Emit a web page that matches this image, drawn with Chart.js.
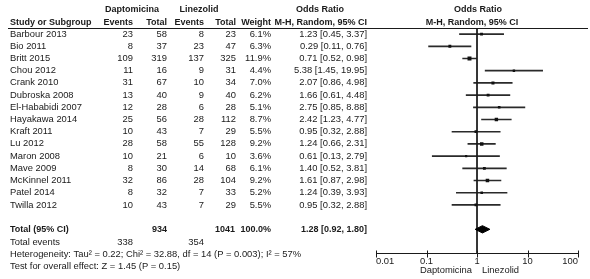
<!DOCTYPE html>
<html>
<head>
<meta charset="utf-8">
<script src="https://cdn.jsdelivr.net/npm/chart.js@4/dist/chart.umd.min.js"></script>
<style>
    html, body { margin: 0; padding: 0; background: #fff; }
    #wrap { width: 590px; height: 279px; }
</style>
</head>
<body>
<div id="wrap"><canvas id="forest" width="590" height="279"></canvas></div>
<script>
(function () {
    "use strict";

    // data
    const studies = [
        "Barbour 2013", "Bio 2011", "Britt 2015", "Chou 2012", "Crank 2010",
        "Dubroska 2008", "El-Hababidi 2007", "Hayakawa 2014", "Kraft 2011", "Lu 2012",
        "Maron 2008", "Mave 2009", "McKinnel 2011", "Patel 2014", "Twilla 2012",
    ];
    const daptoEvents = [23, 8, 109, 11, 31, 13, 12, 25, 10, 28, 10, 8, 32, 8, 10];
    const daptoTotal = [58, 37, 319, 16, 67, 40, 28, 56, 43, 58, 21, 30, 86, 32, 43];
    const lineEvents = [8, 23, 137, 9, 10, 9, 6, 28, 7, 55, 6, 14, 28, 7, 7];
    const lineTotal = [23, 47, 325, 31, 34, 40, 28, 112, 29, 128, 10, 68, 104, 33, 29];
    const weights = [6.1, 6.3, 11.9, 4.4, 7.0, 6.2, 5.1, 8.7, 5.5, 9.2, 3.6, 6.1, 9.2, 5.2, 5.5];
    const oddsRatio = [1.23, 0.29, 0.71, 5.38, 2.07, 1.66, 2.75, 2.42, 0.95, 1.24, 0.61, 1.40, 1.61, 1.24, 0.95];
    const ciLow = [0.45, 0.11, 0.52, 1.45, 0.86, 0.61, 0.85, 1.23, 0.32, 0.66, 0.13, 0.52, 0.87, 0.39, 0.32];
    const ciHigh = [3.37, 0.76, 0.98, 19.95, 4.98, 4.48, 8.88, 4.77, 2.88, 2.31, 2.79, 3.81, 2.98, 3.93, 2.88];

    const totalOR = 1.28;
    const totalLow = 0.92;
    const totalHigh = 1.80;
    const totalDapto = 934;
    const totalLine = 1041;
    const eventsDapto = 338;
    const eventsLine = 354;
    const heterogeneity = "Heterogeneity: Tau\u00b2 = 0.22; Chi\u00b2 = 32.88, df = 14 (P = 0.003); I\u00b2 = 57%";
    const overallTest = "Test for overall effect: Z = 1.45 (P = 0.15)";

    const tickValues = [0.01, 0.1, 1, 10, 100];
    const tickLabels = ["0.01", "0.1", "1", "10", "100"];

    const ink = "#1a1a1a";
    const family = '"Liberation Sans", Arial, sans-serif';
    const font = "9.4px " + family;
    const boldFont = "bold 9px " + family;
    const totalRow = studies.length + 1;

    const f2 = (v) => v.toFixed(2);

    // table text and axis tick marks
    const tableText = {
        id: "tableText",
        afterDraw(chart) {
            const ctx = chart.ctx;
            const ys = chart.scales.y;
            const xs = chart.scales.x;
            const rowY = (i) => ys.getPixelForValue(i);
            const put = (t, x, y, align, f) => {
                ctx.font = f || font;
                ctx.textAlign = align || "left";
                ctx.fillText(t, x, y);
            };
            ctx.save();
            ctx.fillStyle = ink;
            ctx.strokeStyle = ink;
            ctx.lineWidth = 1;
            ctx.textBaseline = "middle";

            // tick marks crossing the axis
            const axisY = Math.round(chart.chartArea.bottom) + 0.5;
            ctx.beginPath();
            tickValues.forEach((v) => {
                const px = Math.round(xs.getPixelForValue(v)) + 0.5;
                ctx.moveTo(px, axisY - 4);
                ctx.lineTo(px, axisY + 3);
            });
            ctx.stroke();

            // headers
            put("Daptomicina", 132, 10, "center", boldFont);
            put("Linezolid", 199, 10, "center", boldFont);
            put("Odds Ratio", 320, 10, "center", boldFont);
            put("Odds Ratio", 478, 10, "center", boldFont);
            put("Study or Subgroup", 10, 22.5, "left", boldFont);
            put("Events", 133, 22.5, "right", boldFont);
            put("Total", 167, 22.5, "right", boldFont);
            put("Events", 204, 22.5, "right", boldFont);
            put("Total", 236, 22.5, "right", boldFont);
            put("Weight", 271, 22.5, "right", boldFont);
            put("M-H, Random, 95% CI", 367, 22.5, "right", boldFont);
            put("M-H, Random, 95% CI", 472, 22.5, "center", boldFont);

            ctx.beginPath();
            ctx.moveTo(8, 28.5);
            ctx.lineTo(588, 28.5);
            ctx.stroke();

            // study rows
            studies.forEach((s, i) => {
                const y = rowY(i);
                put(s, 10, y);
                put(String(daptoEvents[i]), 133, y, "right");
                put(String(daptoTotal[i]), 167, y, "right");
                put(String(lineEvents[i]), 204, y, "right");
                put(String(lineTotal[i]), 236, y, "right");
                put(weights[i].toFixed(1) + "%", 271, y, "right");
                put(f2(oddsRatio[i]) + " [" + f2(ciLow[i]) + ", " + f2(ciHigh[i]) + "]", 367, y, "right");
            });

            // totals
            const ty = rowY(totalRow);
            put("Total (95% CI)", 10, ty, "left", boldFont);
            put(String(totalDapto), 167, ty, "right", boldFont);
            put(String(totalLine), 235, ty, "right", boldFont);
            put("100.0%", 271, ty, "right", boldFont);
            put(f2(totalOR) + " [" + f2(totalLow) + ", " + f2(totalHigh) + "]", 367, ty, "right", boldFont);

            put("Total events", 10, ty + 13.5);
            put(String(eventsDapto), 133, ty + 13.5, "right");
            put(String(eventsLine), 204, ty + 13.5, "right");
            put(heterogeneity, 10, ty + 25.5);
            put(overallTest, 10, ty + 37.5);

            // favours labels
            put("Daptomicina", 472, 270, "right");
            put("Linezolid", 482, 270, "left");
            ctx.restore();
        },
    };

    const diamondHalf = 0.3;

    new Chart(document.getElementById("forest"), {
        type: "scatter",
        data: {
            datasets: [
                {
                    type: "bar",
                    indexAxis: "y",
                    data: studies.map((s, i) => ({ y: i, x: [ciLow[i], ciHigh[i]] })),
                    backgroundColor: "#2a2a2a",
                    borderWidth: 0,
                    barThickness: 1,
                    order: 3,
                },
                {
                    type: "scatter",
                    data: studies.map((s, i) => ({ x: oddsRatio[i], y: i })),
                    pointStyle: "rect",
                    pointRadius: weights.map((w) => (1.15 * Math.sqrt(w)) / 1.414),
                    backgroundColor: "#111",
                    borderColor: "#111",
                    borderWidth: 0,
                    order: 1,
                },
                {
                    type: "line",
                    data: [
                        { x: 1, y: -0.5 },
                        { x: 1, y: 18 },
                    ],
                    borderColor: ink,
                    borderWidth: 1,
                    pointRadius: 0,
                    order: 2,
                },
                {
                    type: "line",
                    data: [
                        { x: totalLow, y: totalRow },
                        { x: totalOR, y: totalRow - diamondHalf },
                        { x: totalHigh, y: totalRow },
                        { x: totalOR, y: totalRow + diamondHalf },
                        { x: totalLow, y: totalRow },
                    ],
                    borderColor: "#000",
                    backgroundColor: "#000",
                    borderWidth: 1,
                    fill: "shape",
                    tension: 0,
                    pointRadius: 0,
                    order: 0,
                },
            ],
        },
        options: {
            responsive: false,
            animation: false,
            devicePixelRatio: 1,
            layout: {
                padding: { left: 376, right: 12, top: 28, bottom: 10 },
            },
            plugins: {
                legend: { display: false },
                tooltip: { enabled: false },
            },
            scales: {
                x: {
                    type: "logarithmic",
                    min: 0.01,
                    max: 100,
                    afterBuildTicks: (scale) => {
                        scale.ticks = tickValues.map((v) => ({ value: v }));
                    },
                    ticks: {
                        autoSkip: false,
                        maxRotation: 0,
                        align: "inner",
                        padding: 2,
                        color: ink,
                        font: { family: family, size: 9.4 },
                        callback: (value) => tickLabels[tickValues.indexOf(value)],
                    },
                    grid: { display: false, drawTicks: false },
                    border: { display: true, color: ink, width: 1 },
                },
                y: {
                    type: "linear",
                    reverse: true,
                    offset: false,
                    min: -0.5,
                    max: 18,
                    display: false,
                },
            },
        },
        plugins: [tableText],
    });
})();
</script>
</body>
</html>
